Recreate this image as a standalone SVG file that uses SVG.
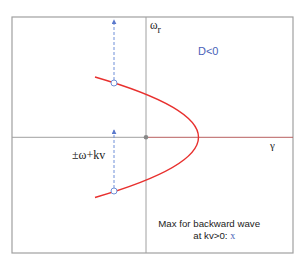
<svg xmlns="http://www.w3.org/2000/svg" width="298" height="265" viewBox="0 0 298 265">
<defs>
<style>
.frame{fill:#fff;stroke:#a0a0a0;stroke-width:1.2}
.axis{stroke:#a0a0a0;stroke-width:1;fill:none}
.dash{stroke:#6f8fd8;stroke-width:1;stroke-dasharray:3,2;fill:none}
.mark{fill:#fff;stroke:#6f8fd8;stroke-width:1}
.serif{font-family:"Liberation Serif","Times New Roman",serif;fill:#222}
.sans{font-family:"Liberation Sans",Arial,sans-serif;fill:#222}
.blue{fill:#4a5fb8}
</style>
<marker id="ah" viewBox="0 0 6 6" refX="5" refY="3" markerWidth="5" markerHeight="5" orient="auto" markerUnits="userSpaceOnUse">
<path d="M0,0 L6,3 L0,6 z" fill="#5a78cc"/>
</marker>
</defs>
<rect x="0" y="0" width="298" height="265" fill="#fff"/>
<rect class="frame" x="12" y="17" width="281" height="236"/>
<g id="axes">
<line class="axis" x1="146" y1="17" x2="146" y2="253"/>
<line class="axis" x1="12" y1="137.3" x2="146" y2="137.3"/>
<line x1="146" y1="137.3" x2="293" y2="137.3" stroke="#b86060" stroke-width="1"/>
<circle cx="146" cy="137.3" r="2.3" fill="#888"/>
</g>
<g id="curve">
<path d="M95,77 Q302,137.3 95,197.5" fill="none" stroke="#e8302e" stroke-width="1.4"/>
</g>
<g id="connectors">
<line class="dash" x1="114" y1="80" x2="114" y2="20" marker-end="url(#ah)"/>
<line class="dash" x1="114" y1="188" x2="114" y2="130" marker-end="url(#ah)"/>
</g>
<g id="points">
<circle class="mark" cx="114" cy="83" r="3"/>
<circle class="mark" cx="114" cy="191" r="3"/>
</g>
<g id="labels">
<text class="serif" x="150" y="29" font-size="11.5">ω<tspan font-size="10" dy="4">r</tspan></text>
<text class="sans blue" x="198" y="55" font-size="11">D&lt;0</text>
<text class="serif" x="270" y="149" font-size="11">γ</text>
<text class="serif" x="72" y="159" font-size="12">±ω+kv</text>
<text class="sans" x="158.3" y="227.3" font-size="9.7">Max for backward wave</text>
<text class="sans" x="193.3" y="239.3" font-size="9.7">at kv&gt;0: <tspan class="serif blue" font-size="10">x</tspan></text>
</g>
</svg>
